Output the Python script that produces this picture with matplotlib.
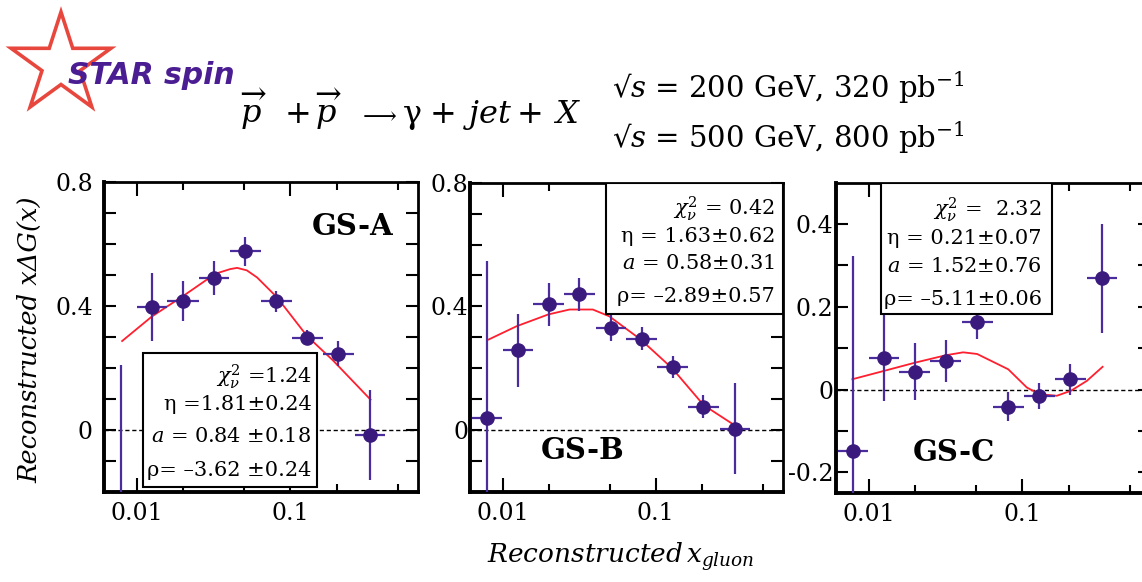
import numpy as np
import matplotlib.pyplot as plt
from matplotlib.patches import Rectangle, Polygon
from matplotlib.ticker import FixedLocator, FixedFormatter, NullFormatter

plt.rcParams['font.family'] = 'DejaVu Serif'
plt.rcParams['mathtext.fontset'] = 'dejavuserif'
plt.rcParams['axes.unicode_minus'] = False

# reconstructed x_gluon bins (same binning for all three scenarios)
x_gluon = [0.0079, 0.0125, 0.0199, 0.0317, 0.0509, 0.0810, 0.129, 0.205, 0.328]
x_lo = [0.0063, 0.0100, 0.0158, 0.0252, 0.0405, 0.0643, 0.102, 0.163, 0.262]
x_hi = [0.0099, 0.0158, 0.0252, 0.0401, 0.0643, 0.1020, 0.162, 0.259, 0.416]

# GS-A
gsa_y = [-0.30, 0.398, 0.417, 0.490, 0.577, 0.415, 0.298, 0.246, -0.016]
gsa_err = [0.51, 0.110, 0.065, 0.055, 0.047, 0.035, 0.025, 0.040, 0.145]
gsa_fit_x = [0.0080, 0.0125, 0.0201, 0.0324, 0.0405, 0.0449, 0.0520, 0.0607, 0.0818,
             0.1285, 0.19, 0.333]
gsa_fit_y = [0.287, 0.366, 0.433, 0.504, 0.519, 0.523, 0.515, 0.492, 0.428,
             0.303, 0.224, 0.098]
gsa_text = [r'$\chi^2_\nu$ =1.24', 'η =1.81±0.24', r'$a$ = 0.84 ±0.18', 'ρ= –3.62 ±0.24']

# GS-B
gsb_y = [0.038, 0.258, 0.407, 0.439, 0.331, 0.295, 0.204, 0.076, 0.005]
gsb_err = [0.51, 0.117, 0.070, 0.054, 0.043, 0.037, 0.037, 0.037, 0.147]
gsb_fit_x = [0.00807, 0.0123, 0.0198, 0.0273, 0.0387, 0.0497, 0.0797, 0.128, 0.2055, 0.3135]
gsb_fit_y = [0.293, 0.336, 0.374, 0.390, 0.390, 0.368, 0.293, 0.200, 0.081, 0.022]
gsb_text = [r'$\chi^2_\nu$ = 0.42', 'η = 1.63±0.62', r'$a$ = 0.58±0.31', 'ρ= –2.89±0.57']

# GS-C
gsc_y = [-0.148, 0.077, 0.043, 0.069, 0.163, -0.041, -0.016, 0.025, 0.269]
gsc_err = [0.47, 0.105, 0.069, 0.051, 0.040, 0.036, 0.032, 0.037, 0.132]
gsc_fit_x = [0.00783, 0.01254, 0.020, 0.0318, 0.0412, 0.0508, 0.081, 0.107, 0.129,
             0.1675, 0.207, 0.263, 0.333]
gsc_fit_y = [0.025, 0.045, 0.065, 0.083, 0.090, 0.086, 0.049, 0.005, -0.011,
             -0.015, -0.003, 0.021, 0.055]
gsc_text = [r'$\chi^2_\nu$ =  2.32', 'η = 0.21±0.07', r'$a$ = 1.52±0.76', 'ρ= –5.11±0.06']

x_ticks = [0.01, 0.1]
x_minor = [0.02, 0.05, 0.2, 0.5]

fig = plt.figure(figsize=(11.42, 5.82), dpi=100)

# pixel-space overlay for the header, logo and shared axis titles
ov = fig.add_axes([0, 0, 1, 1])
ov.set_xlim(0, 1142)
ov.set_ylim(582, 0)
ov.axis('off')

ang = np.pi / 2 + np.arange(10) * np.pi / 5
rad = np.where(np.arange(10) % 2 == 0, 52.5, 20.0)
ov.add_patch(Polygon(np.c_[61 + rad * np.cos(ang), 64.5 - rad * np.sin(ang)],
                     closed=True, fc='white', ec='#e8473e', lw=2.6))
ov.text(68, 84, 'STAR spin', color='#4b1d93', family='DejaVu Sans',
        weight='bold', style='italic', size=21.5)

# reaction, one token at a time so the spacing follows the original layout
reaction = [(240, r'$\overrightarrow{p}$'), (285, '+'), (315, r'$\overrightarrow{p}$'),
            (403, 'γ'), (430, '+'), (463, r'$jet$'), (517, '+'), (553, r'$X$')]
for px, tok in reaction:
    ov.text(px, 123, tok, size=23)
ov.text(358, 122, r'$\longrightarrow$', size=17)

ov.text(612, 98, r'√$s$ = 200 GeV, 320 $\mathrm{pb}^{-1}$', size=21)
ov.text(612, 148, r'√$s$ = 500 GeV, 800 $\mathrm{pb}^{-1}$', size=21)

ov.text(30, 340, 'Reconstructed xΔG(x)', rotation=90, ha='center', va='center',
        style='italic', size=18.5)
ov.text(487, 563, r'Reconstructed$\,x_{gluon}$', style='italic', size=19)


def panel(rect, y, err, fit_x, fit_y, ylim, yticks, ylabels, yminor, ypad,
          box, rows, row_y, row_x, tag, tag_xy):
    ax = fig.add_axes(rect)
    ax.set_xscale('log')
    ax.set_xlim(0.0061, 0.68)
    ax.set_ylim(*ylim)

    ax.axhline(0, color='black', lw=1, ls=(0, (3, 2)), zorder=1)
    ax.plot(fit_x, fit_y, color='#ff1f2e', lw=1.3, zorder=3)
    xerr = [np.subtract(x_gluon, x_lo), np.subtract(x_hi, x_gluon)]
    ax.errorbar(x_gluon, y, yerr=err, xerr=xerr, fmt='o', ms=9.5,
                color='#3b1a7e', ecolor='#4b2c9c', elinewidth=1.6, capsize=0, zorder=4)

    ax.add_patch(Rectangle(box[:2], box[2], box[3], transform=ax.transAxes,
                           fc='white', ec='black', lw=1.5, zorder=5))
    for txt, ty in zip(rows, row_y):
        ax.text(row_x, ty, txt, transform=ax.transAxes, ha='right', va='center',
                size=15, zorder=6)
    ax.text(tag_xy[0], tag_xy[1], tag, transform=ax.transAxes, ha='center',
            va='center', weight='bold', size=21, zorder=6)

    ax.xaxis.set_major_locator(FixedLocator(x_ticks))
    ax.xaxis.set_major_formatter(FixedFormatter(['0.01', '0.1']))
    ax.xaxis.set_minor_locator(FixedLocator(x_minor))
    ax.xaxis.set_minor_formatter(NullFormatter())
    ax.yaxis.set_major_locator(FixedLocator(yticks))
    ax.yaxis.set_major_formatter(FixedFormatter(ylabels))
    ax.yaxis.set_minor_locator(FixedLocator(yminor))

    ax.tick_params(which='both', direction='in', top=True, right=True, width=1.5)
    ax.tick_params(axis='y', which='both', length=8.5, pad=ypad, labelsize=17)
    ax.tick_params(axis='x', which='major', length=10, pad=7, labelsize=17)
    ax.tick_params(axis='x', which='minor', length=5.5)
    for side in ['top', 'right']:
        ax.spines[side].set_linewidth(2.0)
    for side in ['left', 'bottom']:
        ax.spines[side].set_linewidth(2.8)
    return ax


panel([0.0911, 0.1546, 0.2750, 0.5327], gsa_y, gsa_err, gsa_fit_x, gsa_fit_y,
      (-0.2, 0.8), [0, 0.4, 0.8], ['0', '0.4', '0.8'],
      [-0.1, 0.1, 0.2, 0.3, 0.5, 0.6, 0.7], 8,
      (0.125, 0.017, 0.552, 0.432), gsa_text, [0.372, 0.281, 0.178, 0.071], 0.661,
      'GS-A', (0.793, 0.855))

panel([0.4116, 0.1546, 0.2741, 0.5315], gsb_y, gsb_err, gsb_fit_x, gsb_fit_y,
      (-0.2, 0.8), [0, 0.4, 0.8], ['0', '0.4', '0.8'],
      [-0.1, 0.1, 0.2, 0.3, 0.5, 0.6, 0.7], 1,
      (0.4345, 0.5755, 0.5655, 0.4245), gsb_text, [0.915, 0.825, 0.739, 0.631], 0.9745,
      'GS-B', (0.361, 0.133))

panel([0.7318, 0.1529, 0.2754, 0.5332], gsc_y, gsc_err, gsc_fit_x, gsc_fit_y,
      (-0.25, 0.5), [-0.2, 0, 0.2, 0.4], ['-0.2', '0', '0.2', '0.4'],
      [-0.1, 0.1, 0.3], 1.5,
      (0.143, 0.577, 0.544, 0.423), gsc_text, [0.912, 0.821, 0.729, 0.622], 0.655,
      'GS-C', (0.376, 0.132))

fig.savefig('out.png', dpi=100)
